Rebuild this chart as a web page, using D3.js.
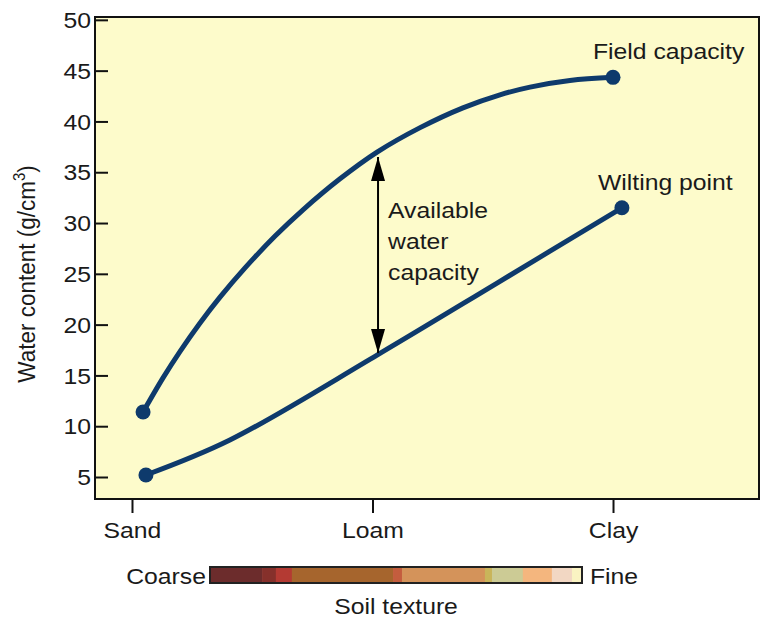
<!DOCTYPE html>
<html>
<head>
<meta charset="utf-8">
<script src="https://cdn.jsdelivr.net/npm/d3@7/dist/d3.min.js"></script>
<style>
  html, body { margin: 0; padding: 0; background: #ffffff; }
  svg { display: block; }
  text { font-family: "Liberation Sans", Arial, Helvetica, sans-serif; fill: #1a1a1a; }
</style>
</head>
<body>
<svg id="chart" width="762" height="620"></svg>
<script>
// ---------------- DATA ----------------
const textureCategories = ["Sand", "Loam", "Clay"];
const textureTickPos = [0, 1, 2];
const yTickValues = [5, 10, 15, 20, 25, 30, 35, 40, 45, 50];

// Field capacity curve (x: 0=Sand, 1=Loam, 2=Clay)
const fieldX = [0.046, 0.129, 0.200, 0.283, 0.366, 0.470, 0.594, 0.711, 0.865, 1.019, 1.198, 1.376, 1.530, 1.655, 1.821, 2.000];
const fieldY = [11.40, 14.76, 17.37, 20.16, 22.70, 25.58, 28.69, 31.30, 34.35, 36.98, 39.39, 41.34, 42.62, 43.38, 44.03, 44.34];

// Wilting point curve
const wiltX = [0.058, 0.407, 1.019, 1.518, 2.037];
const wiltY = [5.2, 8.64, 17.0, 24.09, 31.5];

// Available water capacity arrow (at Loam)
const arrowX = 1.023;
const arrowTop = 36.5;
const arrowBottom = 17.2;

// Soil texture colour bar (fraction breaks, coarse -> fine)
const textureBreaks = [0, 0.14, 0.177, 0.22, 0.492, 0.516, 0.739, 0.758, 0.841, 0.919, 0.973, 1];
const textureColors = ["#6c2c2c", "#86302b", "#b43a33", "#a6652d", "#c45d3e", "#d4935a",
                       "#c9b55a", "#cccb95", "#f4b67e", "#f2d7c3", "#faf3c2"];

// ---------------- LAYOUT ----------------
const SX = 1.1;           // horizontal text stretch
const FS = 22.5;
const navy = "#0e3a6c";
const plot = { left: 95, right: 759, top: 17, bottom: 499 };

const svg = d3.select("#chart");

const x = d3.scaleLinear().domain([-0.1538, 2.607]).range([plot.left, plot.right]);
const y = d3.scaleLinear().domain([2.835, 50.28]).range([plot.bottom, plot.top]);

function label(g, px, py, txt, anchor, size) {
  return g.append("text")
    .attr("transform", `translate(${px},${py}) scale(${SX},1)`)
    .attr("text-anchor", anchor || "start")
    .style("font-size", (size || FS) + "px")
    .text(txt);
}

// plot background
svg.append("rect")
  .attr("x", plot.left).attr("y", plot.top)
  .attr("width", plot.right - plot.left).attr("height", plot.bottom - plot.top)
  .attr("fill", "#fdfbcb");

// y axis (ticks inward)
const yAxis = svg.append("g")
  .attr("transform", `translate(${plot.left},0)`)
  .call(d3.axisLeft(y).tickValues(yTickValues).tickSize(-13).tickPadding(4));
yAxis.select(".domain").remove();
yAxis.selectAll(".tick line").attr("stroke", "#111").attr("stroke-width", 2);
yAxis.selectAll(".tick text")
  .attr("x", null).attr("dy", null)
  .attr("transform", `translate(-4,0) scale(${SX},1)`)
  .attr("dominant-baseline", "central")
  .attr("text-anchor", "end")
  .attr("fill", "#1a1a1a")
  .style("font-family", '"Liberation Sans", Arial, sans-serif')
  .style("font-size", FS + "px");

// x axis (ticks outward)
const xAxis = svg.append("g")
  .attr("transform", `translate(0,${plot.bottom})`)
  .call(d3.axisBottom(x).tickValues(textureTickPos)
        .tickFormat((d, i) => textureCategories[i]).tickSize(14).tickPadding(6));
xAxis.select(".domain").remove();
xAxis.selectAll(".tick line").attr("stroke", "#111").attr("stroke-width", 2);
xAxis.selectAll(".tick text")
  .attr("y", null).attr("dy", null)
  .attr("transform", `translate(0,39) scale(${SX},1)`)
  .attr("fill", "#1a1a1a")
  .style("font-family", '"Liberation Sans", Arial, sans-serif')
  .style("font-size", FS + "px");

// border
svg.append("rect")
  .attr("x", plot.left).attr("y", plot.top)
  .attr("width", plot.right - plot.left).attr("height", plot.bottom - plot.top)
  .attr("fill", "none").attr("stroke", "#111").attr("stroke-width", 2);

// curves
const line = d3.line().x(d => x(d[0])).y(d => y(d[1])).curve(d3.curveCatmullRom.alpha(0.5));
const fieldPts = fieldX.map((v, i) => [v, fieldY[i]]);
const wiltPts = wiltX.map((v, i) => [v, wiltY[i]]);

[fieldPts, wiltPts].forEach(pts => {
  svg.append("path").datum(pts)
    .attr("d", line)
    .attr("fill", "none").attr("stroke", navy)
    .attr("stroke-width", 5).attr("stroke-linecap", "round");
  svg.selectAll(null).data([pts[0], pts[pts.length - 1]]).enter()
    .append("circle")
    .attr("cx", d => x(d[0])).attr("cy", d => y(d[1]))
    .attr("r", 7.5).attr("fill", navy);
});

// arrow
const defs = svg.append("defs");
["start", "end"].forEach(k => {
  defs.append("marker")
    .attr("id", "arr-" + k)
    .attr("markerUnits", "userSpaceOnUse")
    .attr("markerWidth", 26).attr("markerHeight", 16)
    .attr("viewBox", "0 -8 26 16")
    .attr("refX", 24).attr("refY", 0)
    .attr("orient", k === "start" ? "auto-start-reverse" : "auto")
    .append("path").attr("d", "M0,-7L24,0L0,7Z").attr("fill", "#000");
});
svg.append("line")
  .attr("x1", x(arrowX)).attr("x2", x(arrowX))
  .attr("y1", y(arrowTop)).attr("y2", y(arrowBottom))
  .attr("stroke", "#000").attr("stroke-width", 2)
  .attr("marker-start", "url(#arr-start)")
  .attr("marker-end", "url(#arr-end)");

// annotations
const ann = svg.append("g");
label(ann, x(arrowX) + 10, 218, "Available");
label(ann, x(arrowX) + 10, 249, "water");
label(ann, x(arrowX) + 10, 280, "capacity");
label(ann, 593, 59, "Field capacity");
label(ann, 598, 190, "Wilting point");

// y title
const yt = svg.append("text")
  .attr("transform", `translate(35,274) scale(${SX},1) rotate(-90)`)
  .attr("text-anchor", "middle")
  .style("font-size", FS + "px");
yt.append("tspan").text("Water content (g/cm");
yt.append("tspan").attr("dy", -9).style("font-size", "15px").text("3");
yt.append("tspan").attr("dy", 9).text(")");

// soil texture bar
const bar = { x0: 210, x1: 582, y0: 567, h: 16 };
const bx = d3.scaleLinear().domain([0, 1]).range([bar.x0, bar.x1]);
svg.append("g").selectAll("rect")
  .data(textureColors).enter().append("rect")
  .attr("x", (d, i) => bx(textureBreaks[i]))
  .attr("width", (d, i) => bx(textureBreaks[i + 1]) - bx(textureBreaks[i]) + 0.5)
  .attr("y", bar.y0).attr("height", bar.h)
  .attr("fill", d => d);
svg.append("rect")
  .attr("x", bar.x0).attr("y", bar.y0)
  .attr("width", bar.x1 - bar.x0).attr("height", bar.h)
  .attr("fill", "none").attr("stroke", "#222").attr("stroke-width", 2);

label(svg, bar.x0 - 4, 584, "Coarse", "end");
label(svg, bar.x1 + 8, 584, "Fine", "start");
label(svg, (bar.x0 + bar.x1) / 2, 614, "Soil texture", "middle");
</script>
</body>
</html>
